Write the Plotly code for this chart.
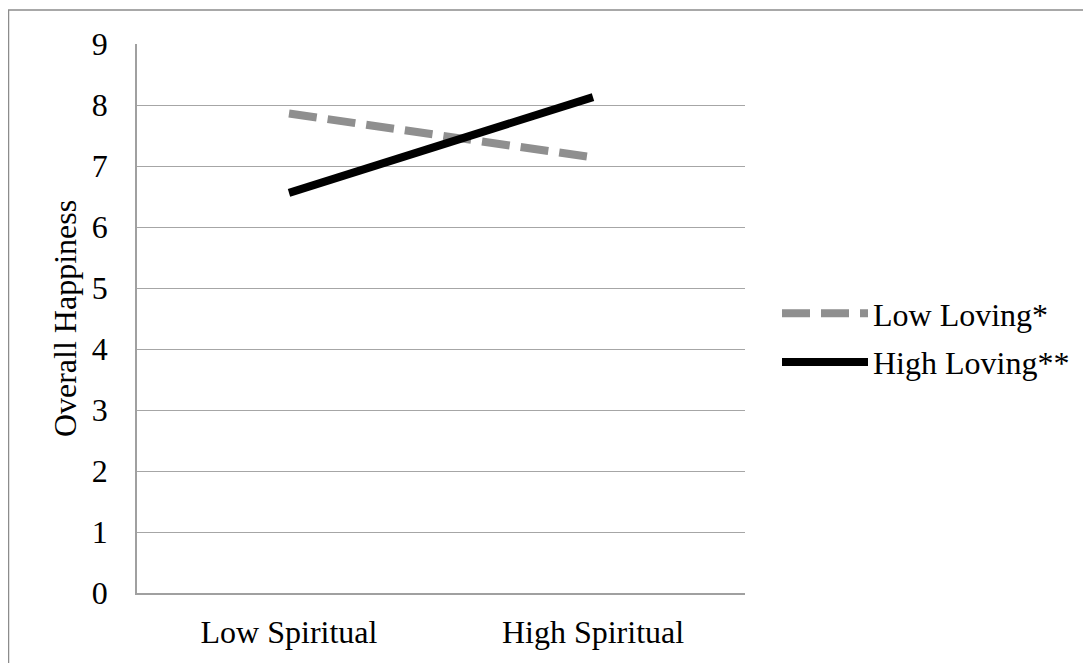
import plotly.graph_objects as go

categories = ["Low Spiritual", "High Spiritual"]
low_loving = [7.86, 7.14]
high_loving = [6.56, 8.13]
series_names = ["Low Loving*", "High Loving**"]
y_ticks = [0, 1, 2, 3, 4, 5, 6, 7, 8, 9]

FONT = "Liberation Serif, Times New Roman, serif"
W, H = 1091, 663
OFF = 8  # page body margin offset
# desired on-screen plot area: x 137..745, y 44..593
L, T = 137 - OFF, 44 - OFF
R = W - (745 - OFF)
B = H - (593 - OFF)
pw, ph = W - L - R, H - T - B

fig = go.Figure()
fig.add_trace(go.Scatter(
    x=categories, y=low_loving, mode="lines", name=series_names[0],
    line=dict(color="#8f8f8f", width=8, dash="28px,11px"),
    legendgroup="a",
))
fig.add_trace(go.Scatter(
    x=categories, y=high_loving, mode="lines", name=series_names[1],
    line=dict(color="#000000", width=8),
    legendgroup="b",
))

def px_x(x):
    # x in screen pixels -> paper coords
    return (x - OFF - L) / pw

def px_y(y):
    return (H - B - (y - OFF)) / ph

fig.update_layout(
    width=W, height=H,
    margin=dict(l=L, r=R, t=T, b=B),
    paper_bgcolor="white", plot_bgcolor="white",
    font=dict(family=FONT, size=32, color="black"),
    showlegend=True,
    legend=dict(
        x=px_x(777), y=px_y(338), xanchor="left", yanchor="middle",
        font=dict(family=FONT, size=32, color="black"),
        itemwidth=86, tracegroupgap=4, bgcolor="rgba(0,0,0,0)",
    ),
    xaxis=dict(
        type="category", range=[-0.5, 1.5], showgrid=False,
        showline=True, linecolor="#a0a0a0", linewidth=1.5,
        ticks="", ticklabelstandoff=10, zeroline=False,
        tickfont=dict(family=FONT, size=32),
    ),
    yaxis=dict(
        range=[0, 9], tickvals=y_ticks, showgrid=True, gridcolor="#a6a6a6", gridwidth=1.2,
        showline=True, linecolor="#a0a0a0", linewidth=1.5, zeroline=False,
        ticks="", ticklabelstandoff=21,
        tickfont=dict(family=FONT, size=32),
        title=dict(text="Overall Happiness", font=dict(family=FONT, size=32), standoff=6),
    ),
    shapes=[dict(
        type="rect", xref="paper", yref="paper",
        x0=px_x(8.5), x1=px_x(1110), y0=px_y(700), y1=px_y(10),
        line=dict(color="#8c8c8c", width=1.5), fillcolor="rgba(0,0,0,0)", layer="below",
    )],
)

fig.write_html("out.html")
